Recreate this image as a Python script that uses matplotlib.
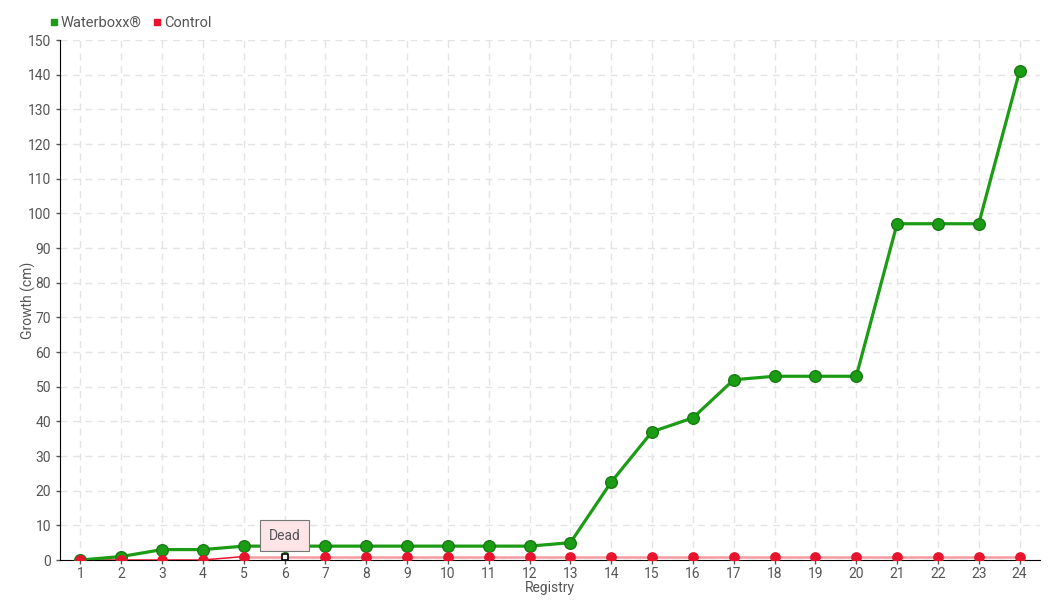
import numpy as np
import matplotlib.pyplot as plt
from matplotlib.lines import Line2D

registry = list(range(1, 25))
waterboxx = [0, 1, 3, 3, 4, 4, 4, 4, 4, 4, 4, 4, 5, 22.5, 37, 41, 52, 53, 53, 53, 97, 97, 97, 141]
control = [0, 0, 0, 0, 1, 1, 1, 1, 1, 1, 1, 1, 1, 1, 1, 1, 1, 1, 1, 1, 1, 1, 1, 1]
dead_idx = 5  # registry 6

plt.rcParams['font.family'] = ['Roboto', 'DejaVu Sans']
txt = '#555555'
green = '#1c9c14'
red = '#e8142d'

fig = plt.figure(figsize=(10.6, 6), dpi=100)
ax = fig.add_axes([60/1060, 40/600, 980/1060, 520/600])

# control line: thin red before death, pale after
ax.plot(registry[:5], control[:5], color=red, lw=1.1, zorder=3)
ax.plot(registry[4:], control[4:], color='#f59aa0', lw=1.8, zorder=2)
ax.plot(registry, waterboxx, color=green, lw=2.3, zorder=4)
ax.scatter(registry, waterboxx, s=70, color=green, edgecolor='#177a12', lw=1, zorder=5)
alive = [i for i in range(len(registry)) if i != dead_idx]
ax.scatter([registry[i] for i in alive], [control[i] for i in alive], s=45, color=red, zorder=6)
ax.scatter([registry[dead_idx]], [control[dead_idx]], s=22, marker='s', facecolor='white',
           edgecolor='black', lw=1.2, zorder=9)

ax.annotate('Dead', xy=(registry[dead_idx], control[dead_idx]), xytext=(0, 15),
            textcoords='offset points', ha='center', va='center', fontsize=10, color=txt,
            bbox=dict(boxstyle='square,pad=0.6', fc='#fde4e6', ec='#777777', lw=0.8), zorder=8)

ax.set_xlim(0.5, 24.5)
ax.set_ylim(0, 150)
ax.set_xticks(registry)
ax.set_yticks(np.arange(0, 151, 10))
ax.tick_params(colors=txt, labelsize=10, length=3, width=1)
ax.tick_params(axis='x', colors=txt, pad=2)
for s in ['top', 'right']:
    ax.spines[s].set_visible(False)
for s in ['left', 'bottom']:
    ax.spines[s].set_color('black')
ax.grid(True, ls=(0, (5, 4)), color='#e4e4e4', lw=1)
ax.set_axisbelow(True)
ax.set_xlabel('Registry', color=txt, fontsize=10, labelpad=0)
ax.set_ylabel('Growth (cm)', color=txt, fontsize=10)
ax.yaxis.set_label_coords(-24/980, 0.5)

handles = [Line2D([], [], marker='s', ls='', color=green, markersize=5),
           Line2D([], [], marker='s', ls='', color=red, markersize=5)]
leg = fig.legend(handles, ['Waterboxx®', 'Control'], loc='upper left', bbox_to_anchor=(42/1060, 1 - 10/600),
                 ncol=2, frameon=False, handletextpad=0.1, columnspacing=0.6, fontsize=10.5,
                 handlelength=0.8, borderaxespad=0)
for t in leg.get_texts():
    t.set_color(txt)

fig.savefig('out.png', dpi=100)
